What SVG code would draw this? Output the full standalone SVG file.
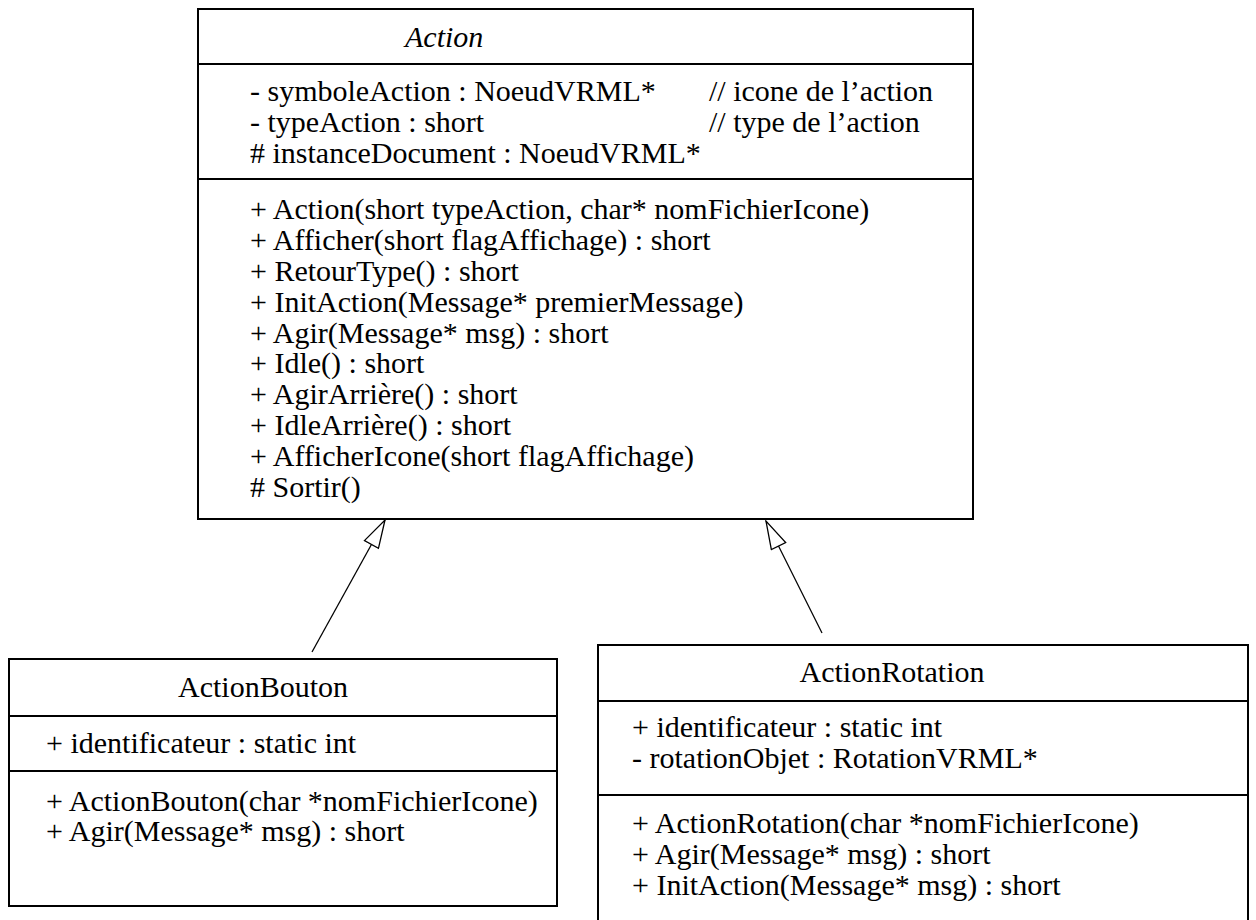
<svg xmlns="http://www.w3.org/2000/svg" width="1256" height="920" viewBox="0 0 1256 920">
<style>
.box{fill:#fff;stroke:#000;stroke-width:2}
.sep{stroke:#000;stroke-width:2}
.t{font-family:'Liberation Serif','Times New Roman',serif;font-size:30px;fill:#000}
.title{text-anchor:middle}
.it{font-style:italic}
.conn{stroke:#000;stroke-width:1.3;fill:none}
</style>
<defs>
<marker id="gen" markerUnits="userSpaceOnUse" viewBox="-1 -1 30 18" refX="28" refY="8" markerWidth="30" markerHeight="18" orient="auto">
<path d="M0,0 L28,8 L0,16 Z" fill="#fff" stroke="#000" stroke-width="1.3"/>
</marker>
</defs>
<rect width="1256" height="920" fill="#fff"/>
<g id="Action">
<rect class="box" x="198" y="9" width="775" height="510"/>
<line class="sep" x1="198" y1="64" x2="973" y2="64"/>
<line class="sep" x1="198" y1="179" x2="973" y2="179"/>
<text class="t it" x="405" y="47">Action</text>
<text class="t" x="250" y="101">- symboleAction : NoeudVRML*</text>
<text class="t" x="709" y="101">// icone de l’action</text>
<text class="t" x="250" y="132">- typeAction : short</text>
<text class="t" x="709" y="132">// type de l’action</text>
<text class="t" x="250" y="163"># instanceDocument : NoeudVRML*</text>
<text class="t" x="250" y="219">+ Action(short typeAction, char* nomFichierIcone)</text>
<text class="t" x="250" y="250">+ Afficher(short flagAffichage) : short</text>
<text class="t" x="250" y="281">+ RetourType() : short</text>
<text class="t" x="250" y="312">+ InitAction(Message* premierMessage)</text>
<text class="t" x="250" y="343">+ Agir(Message* msg) : short</text>
<text class="t" x="250" y="373">+ Idle() : short</text>
<text class="t" x="250" y="404">+ AgirArrière() : short</text>
<text class="t" x="250" y="435">+ IdleArrière() : short</text>
<text class="t" x="250" y="466">+ AfficherIcone(short flagAffichage)</text>
<text class="t" x="250" y="497"># Sortir()</text>
</g>
<g id="ActionBouton">
<rect class="box" x="9" y="659" width="548" height="247"/>
<line class="sep" x1="9" y1="716" x2="557" y2="716"/>
<line class="sep" x1="9" y1="771" x2="557" y2="771"/>
<text class="t title" x="263" y="697">ActionBouton</text>
<text class="t" x="46" y="753">+ identificateur : static int</text>
<text class="t" x="46" y="811">+ ActionBouton(char *nomFichierIcone)</text>
<text class="t" x="46" y="841">+ Agir(Message* msg) : short</text>
</g>
<g id="ActionRotation">
<rect class="box" x="598" y="645" width="650" height="285"/>
<line class="sep" x1="598" y1="701" x2="1248" y2="701"/>
<line class="sep" x1="598" y1="795" x2="1248" y2="795"/>
<text class="t title" x="892" y="682">ActionRotation</text>
<text class="t" x="632" y="737">+ identificateur : static int</text>
<text class="t" x="632" y="768">- rotationObjet : RotationVRML*</text>
<text class="t" x="632" y="833">+ ActionRotation(char *nomFichierIcone)</text>
<text class="t" x="632" y="864">+ Agir(Message* msg) : short</text>
<text class="t" x="632" y="895">+ InitAction(Message* msg) : short</text>
</g>
<g id="connectors">
<line class="conn" x1="312" y1="652" x2="385" y2="520" marker-end="url(#gen)"/>
<line class="conn" x1="822" y1="633" x2="766" y2="521" marker-end="url(#gen)"/>
</g>
</svg>
